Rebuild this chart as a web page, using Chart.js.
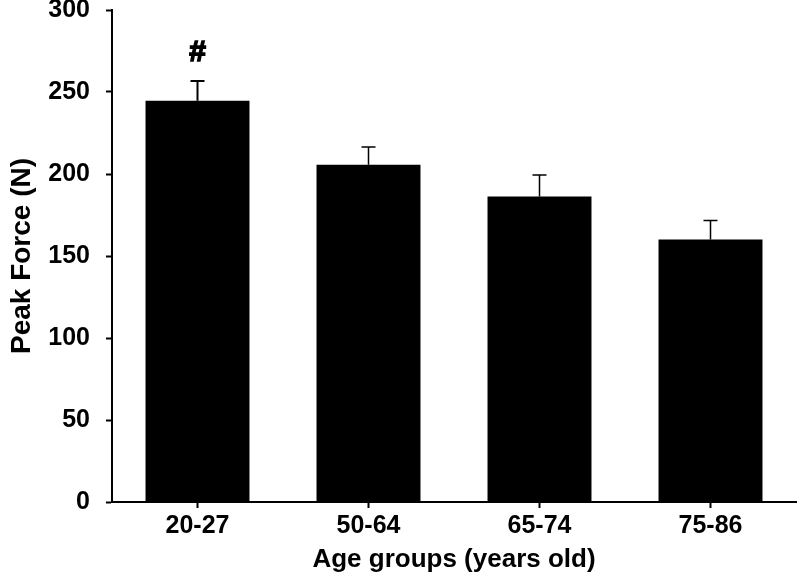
<!DOCTYPE html>
<html>
<head>
<meta charset="utf-8">
<script src="https://cdn.jsdelivr.net/npm/chart.js@4/dist/chart.umd.min.js"></script>
<style>
  html, body { margin: 0; padding: 0; background: #fff; }
  canvas { display: block; }
</style>
</head>
<body>
<canvas id="myChart1" width="798" height="576"></canvas>
<script>
const ageGroups = ["20-27", "50-64", "65-74", "75-86"];
const peakForce = [244.7, 205.7, 186.3, 160.1];
const peakForceSE = [12.0, 10.8, 13.1, 11.6];
const marks = ["#", "", "", ""];
const yTicks = [0, 50, 100, 150, 200, 250, 300];

const FONT = "'Liberation Sans', Arial, Helvetica, sans-serif";

// upper error bars + significance marks
const errorBars = {
  id: "errorBars",
  afterDatasetsDraw(chart) {
    const ctx = chart.ctx;
    const y = chart.scales.y;
    const meta = chart.getDatasetMeta(0);
    ctx.save();
    ctx.strokeStyle = "#000";
    ctx.lineWidth = 2;
    meta.data.forEach(function (bar, i) {
      const top = y.getPixelForValue(peakForce[i]);
      const errTop = y.getPixelForValue(peakForce[i] + peakForceSE[i]);
      ctx.beginPath();
      ctx.moveTo(bar.x, top);
      ctx.lineTo(bar.x, errTop);
      ctx.moveTo(bar.x - 7, errTop);
      ctx.lineTo(bar.x + 7, errTop);
      ctx.stroke();
      if (marks[i]) {
        ctx.fillStyle = "#000";
        ctx.font = "bold 30px " + FONT;
        ctx.textAlign = "center";
        ctx.textBaseline = "middle";
        ctx.lineWidth = 1.5;
        ctx.fillText(marks[i], bar.x, errTop - 28);
        ctx.strokeText(marks[i], bar.x, errTop - 28);
      }
    });
    ctx.restore();
  },
};

const myChart1 = document.getElementById("myChart1").getContext("2d");
const forceChart = new Chart(myChart1, {
  type: "bar",
  data: {
    labels: ageGroups,
    datasets: [
      {
        data: peakForce,
        backgroundColor: "#000",
        borderWidth: 0,
        categoryPercentage: 1.0,
        barPercentage: 0.608,
      },
    ],
  },
  options: {
    responsive: false,
    animation: false,
    devicePixelRatio: 1,
    layout: { padding: { top: 10, right: 2, bottom: 0, left: 0 } },
    plugins: {
      legend: { display: false },
      tooltip: { enabled: false },
    },
    scales: {
      x: {
        offset: true,
        grid: {
          offset: false,
          drawOnChartArea: false,
          drawTicks: true,
          tickLength: 6,
          tickWidth: 2,
          tickColor: "#000",
        },
        border: { display: true, color: "#000", width: 2 },
        ticks: {
          color: "#000",
          padding: 3,
          maxRotation: 0,
          font: { family: FONT, size: 25, weight: "bold" },
        },
        title: {
          display: true,
          text: "Age groups (years old)",
          color: "#000",
          padding: { top: 0, bottom: 1 },
          font: { family: FONT, size: 26, weight: "bold" },
        },
        afterFit(scale) {
          scale.height = 74;
          scale.paddingLeft = 0;
          scale.paddingRight = 0;
        },
      },
      y: {
        min: 0,
        max: 300,
        afterBuildTicks(scale) {
          scale.ticks = yTicks.map(function (v) { return { value: v }; });
        },
        grid: {
          drawOnChartArea: false,
          drawTicks: true,
          tickLength: 6,
          tickWidth: 2,
          tickColor: "#000",
        },
        border: { display: true, color: "#000", width: 2 },
        ticks: {
          color: "#000",
          padding: 16,
          font: { family: FONT, size: 25, weight: "bold" },
        },
        title: {
          display: true,
          text: "Peak Force (N)",
          color: "#000",
          padding: { top: 5, bottom: 0 },
          font: { family: FONT, size: 28, weight: "bold" },
        },
        afterFit(scale) {
          scale.width = 112;
          scale.paddingTop = 0;
          scale.paddingBottom = 0;
        },
      },
    },
  },
  plugins: [errorBars],
});
</script>
</body>
</html>
